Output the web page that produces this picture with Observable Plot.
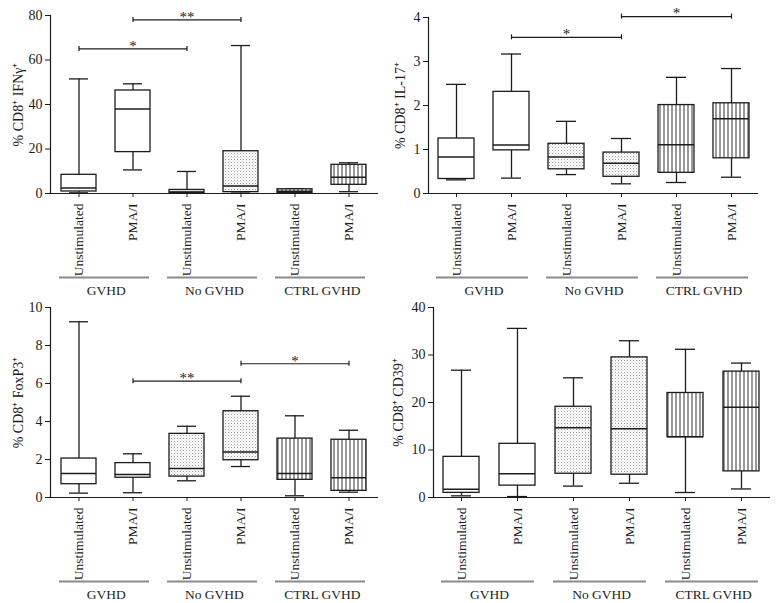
<!DOCTYPE html>
<html><head><meta charset="utf-8">
<script src="https://cdn.jsdelivr.net/npm/d3@7"></script>
<script src="https://cdn.jsdelivr.net/npm/@observablehq/plot@0.6"></script>
<style>
body{margin:0;background:#fff;}
#root{position:relative;width:782px;height:603px;overflow:hidden;background:#fff;}
.panel{position:absolute;}
</style></head><body>
<svg width="0" height="0" style="position:absolute">
<defs>
<pattern id="dots" width="3" height="3" patternUnits="userSpaceOnUse">
<rect width="3" height="3" fill="#fff"/>
<rect x="0" y="0" width="1" height="1" fill="#9a9a9a"/>
<rect x="1.5" y="1.5" width="1" height="1" fill="#c4c4c4"/>
</pattern>
<pattern id="vlines" width="4" height="4" patternUnits="userSpaceOnUse">
<rect width="4" height="4" fill="#fff"/>
<rect x="1.5" y="0" width="1" height="4" fill="#333"/>
</pattern>
</defs></svg>
<div id="root"></div>
<script>
// ---- data ----
const groups = ["GVHD", "No GVHD", "CTRL GVHD"];
const conditions = ["Unstimulated", "PMA/I"];
const categories = groups.flatMap(g => conditions.map(c => `${g}|${c}`));
const categoryGroup = groups.flatMap(g => conditions.map(() => g));

// each box: [min, q1, median, q3, max]
const ifng = [
  [0.3, 0.9, 2.5, 8.4, 51.5],
  [10.6, 18.6, 38, 46.3, 49.3],
  [0.1, 0.3, 0.7, 1.6, 9.9],
  [0.2, 0.6, 3.4, 19, 66.5],
  [0.1, 0.3, 1.0, 1.9, 2.2],
  [0.8, 3.9, 7.3, 12.9, 13.8]
];
const il17 = [
  [0.31, 0.33, 0.83, 1.25, 2.48],
  [0.35, 0.98, 1.10, 2.31, 3.17],
  [0.43, 0.55, 0.83, 1.13, 1.64],
  [0.22, 0.38, 0.69, 0.93, 1.25],
  [0.25, 0.47, 1.11, 2.01, 2.64],
  [0.37, 0.80, 1.70, 2.05, 2.84]
];
const foxp3 = [
  [0.23, 0.70, 1.26, 2.05, 9.25],
  [0.25, 1.04, 1.21, 1.81, 2.30],
  [0.88, 1.10, 1.53, 3.35, 3.75],
  [1.63, 1.96, 2.40, 4.54, 5.33],
  [0.09, 0.93, 1.26, 3.10, 4.30],
  [0.28, 0.35, 1.04, 3.04, 3.54]
];
const cd39 = [
  [0.35, 0.98, 1.75, 8.56, 26.8],
  [0.2, 2.5, 5.0, 11.3, 35.6],
  [2.4, 5.0, 14.7, 19.1, 25.2],
  [3.0, 4.8, 14.5, 29.5, 33.0],
  [1.05, 12.7, 12.8, 22.0, 31.2],
  [1.8, 5.5, 19.0, 26.5, 28.3]
];
const ifngSig = [{from: 0, to: 2, y: 65, label: "*"}, {from: 1, to: 3, y: 78, label: "**"}];
const il17Sig = [{from: 1, to: 3, y: 3.55, label: "*"}, {from: 3, to: 5, y: 4.02, label: "*"}];
const foxp3Sig = [{from: 1, to: 3, y: 6.12, label: "**"}, {from: 3, to: 5, y: 7.04, label: "*"}];
const cd39Sig = [];

const yLabels = ["% CD8\u207A IFN\u03B3\u207A", "% CD8\u207A IL-17\u207A", "% CD8\u207A FoxP3\u207A", "% CD8\u207A CD39\u207A"];
const yDomains = [[0, 80], [0, 4], [0, 10], [0, 40]];
const yTicks = [[0, 20, 40, 60, 80], [0, 1, 2, 3, 4], [0, 2, 4, 6, 8, 10], [0, 10, 20, 30, 40]];

// ---- drawing ----
const fills = {"GVHD": "#fff", "No GVHD": "url(#dots)", "CTRL GVHD": "url(#vlines)"};
const FONT = "'Liberation Serif', 'Times New Roman', serif";
const INK = "#1c1c1c";

function panel(data, sig, idx, layout) {
  const {left, top, width, height, ml, mr, mt, mb, labelDx} = layout;
  const rows = data.map((d, i) => ({cat: categories[i], group: categoryGroup[i], min: d[0], q1: d[1], med: d[2], q3: d[3], max: d[4]}));
  const sigRows = sig.map(s => ({x1: categories[s.from], x2: categories[s.to], xm: categories[(s.from + s.to) / 2], y: s.y, label: s.label}));
  const y0 = yDomains[idx][0];
  const groupRows = groups.map((g, j) => ({g, x1: categories[2 * j], x2: categories[2 * j + 1], y: y0}));
  const step = (width - ml - mr) / categories.length;
  const plot = Plot.plot({
    width, height, marginLeft: ml, marginRight: mr, marginTop: mt, marginBottom: mb,
    style: {fontFamily: FONT, fontSize: "13px", color: INK, background: "transparent", overflow: "visible"},
    x: {domain: categories, paddingInner: 0.35, paddingOuter: 0.175, axis: null},
    y: {domain: yDomains[idx], axis: null},
    marks: [
      Plot.axisY({ticks: yTicks[idx], tickSize: 5, tickPadding: 3, tickFormat: d3.format("~g"), label: null, fontSize: 14}),
      Plot.axisX({tickRotate: -90, tickSize: 4, tickPadding: 6, tickFormat: d => d.split("|")[1], label: null, fontSize: 13.5}),
      Plot.text([yLabels[idx]], {text: d => d, frameAnchor: "left", textAnchor: "middle", rotate: -90, dx: labelDx, fontSize: 14, fill: INK}),
      Plot.ruleY([y0], {stroke: INK, strokeWidth: 1.2}),
      Plot.frame({anchor: "left", stroke: INK, strokeWidth: 1.2}),
      Plot.ruleX(rows, {x: "cat", y1: "min", y2: "max", stroke: INK, strokeWidth: 1.3}),
      Plot.tickY(rows, {x: "cat", y: "min", insetLeft: 8, insetRight: 8, stroke: INK, strokeWidth: 1.3}),
      Plot.tickY(rows, {x: "cat", y: "max", insetLeft: 8, insetRight: 8, stroke: INK, strokeWidth: 1.3}),
      ...groups.map(g => Plot.barY(rows.filter(r => r.group === g), {x: "cat", y1: "q1", y2: "q3", fill: fills[g], stroke: INK, strokeWidth: 1.3})),
      Plot.tickY(rows, {x: "cat", y: "med", stroke: INK, strokeWidth: 1.5}),
      Plot.link(sigRows, {x1: "x1", x2: "x2", y1: "y", y2: "y", stroke: INK, strokeWidth: 1.2}),
      Plot.ruleX(sigRows, {x: "x1", y1: "y", y2: "y", insetTop: -2.5, insetBottom: -2.5, stroke: INK, strokeWidth: 1.2}),
      Plot.ruleX(sigRows, {x: "x2", y1: "y", y2: "y", insetTop: -2.5, insetBottom: -2.5, stroke: INK, strokeWidth: 1.2}),
      Plot.text(sigRows, {x: "xm", y: "y", text: "label", dy: -3, lineAnchor: "middle", fontSize: 15, fill: INK}),
      Plot.ruleY(groupRows, {x1: "x1", x2: "x2", y: "y", dy: 84, stroke: "#8a8a8a", strokeWidth: 2, insetLeft: -2, insetRight: 1}),
      Plot.text(groupRows, {x: "x1", y: "y", text: "g", dx: step / 2, dy: 97, fontSize: 13.5, fill: INK})
    ]
  });
  const div = document.createElement("div");
  div.className = "panel";
  div.style.left = left + "px";
  div.style.top = top + "px";
  div.appendChild(plot);
  document.getElementById("root").appendChild(div);
}

panel(ifng, ifngSig, 0, {left: 0, top: 0, width: 390, height: 300, ml: 50, mr: 12, mt: 15, mb: 107, labelDx: -32});
panel(il17, il17Sig, 1, {left: 390, top: 0, width: 392, height: 300, ml: 38, mr: 24, mt: 17, mb: 107, labelDx: -28});
panel(foxp3, foxp3Sig, 2, {left: 0, top: 300, width: 390, height: 303, ml: 50, mr: 12, mt: 7, mb: 106, labelDx: -32});
panel(cd39, cd39Sig, 3, {left: 390, top: 300, width: 392, height: 303, ml: 43, mr: 12, mt: 7, mb: 106, labelDx: -35});
</script>
</body></html>
